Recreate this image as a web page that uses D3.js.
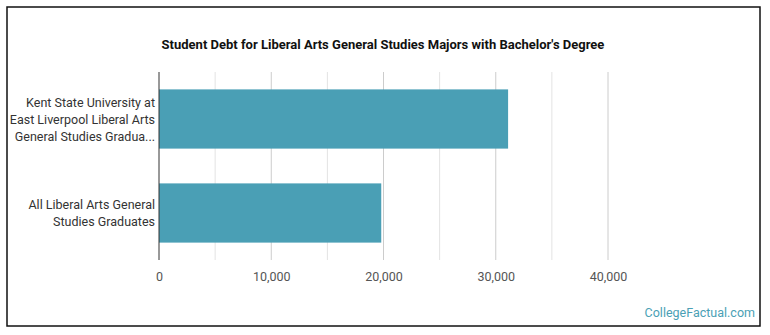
<!DOCTYPE html>
<html>
<head>
<meta charset="utf-8">
<script src="https://cdn.jsdelivr.net/npm/d3@7"></script>
<style>
  body { margin: 0; background: #fff; }
  svg text { font-family: Roboto, "Open Sans", sans-serif; }
</style>
</head>
<body>
<svg id="chart"></svg>
<script>
(() => {
  const width = 770, height = 335;

  const chartTitle = "Student Debt for Liberal Arts General Studies Majors with Bachelor's Degree";
  const categories = [
    ["Kent State University at", "East Liverpool Liberal Arts", "General Studies Gradua..."],
    ["All Liberal Arts General", "Studies Graduates"]
  ];
  const debtValues = [31100, 19800];
  const tickValues = [0, 10000, 20000, 30000, 40000];
  const gridValues = [0, 5000, 10000, 15000, 20000, 25000, 30000, 35000, 40000];

  const margin = { top: 72, left: 159, bottom: 75, right: 162 };

  const svg = d3.select("#chart")
    .attr("width", width)
    .attr("height", height);

  // frame
  svg.append("rect")
    .attr("x", 7).attr("y", 7)
    .attr("width", 753).attr("height", 319)
    .attr("fill", "#fff")
    .attr("stroke", "#111")
    .attr("stroke-width", 1.5);

  svg.append("text")
    .attr("x", 383).attr("y", 49)
    .attr("text-anchor", "middle")
    .attr("font-size", 13)
    .attr("font-weight", "bold")
    .attr("fill", "#111")
    .text(chartTitle);

  const x = d3.scaleLinear()
    .domain([0, 40000])
    .range([margin.left, width - margin.right]);

  const y = d3.scaleBand()
    .domain(d3.range(categories.length))
    .range([margin.top, height - margin.bottom])
    .paddingInner(0.37)
    .paddingOuter(0.185);

  const plotBottom = height - margin.bottom;

  // grid
  svg.append("g")
    .selectAll("line")
    .data(gridValues.filter(d => d > 0))
    .join("line")
    .attr("x1", d => x(d)).attr("x2", d => x(d))
    .attr("y1", margin.top).attr("y2", plotBottom)
    .attr("stroke", d => d % 10000 === 0 ? "#ccc" : "#e3e3e3")
    .attr("stroke-width", 1);

  // bars
  svg.append("g")
    .selectAll("rect")
    .data(debtValues)
    .join("rect")
    .attr("x", x(0))
    .attr("y", (d, i) => y(i))
    .attr("width", d => x(d) - x(0))
    .attr("height", y.bandwidth())
    .attr("fill", "#4a9fb5");

  // y axis line
  svg.append("line")
    .attr("x1", x(0)).attr("x2", x(0))
    .attr("y1", margin.top).attr("y2", plotBottom)
    .attr("stroke", "#333")
    .attr("stroke-width", 1);

  // category labels
  const lineH = 17;
  const labels = svg.append("g")
    .selectAll("text")
    .data(categories)
    .join("text")
    .attr("text-anchor", "end")
    .attr("font-size", 12.5)
    .attr("fill", "#333");

  labels.each(function (lines, i) {
    const cy = y(i) + y.bandwidth() / 2;
    const y0 = cy - (lines.length - 1) * lineH / 2 + 4.5;
    d3.select(this).selectAll("tspan")
      .data(lines)
      .join("tspan")
      .attr("x", x(0) - 4)
      .attr("y", (d, j) => y0 + j * lineH)
      .text(d => d);
  });

  // x tick labels
  const xAxis = d3.axisBottom(x)
    .tickValues(tickValues)
    .tickSize(0)
    .tickPadding(12)
    .tickFormat(d3.format(","));

  const gx = svg.append("g")
    .attr("transform", `translate(0,${plotBottom})`)
    .call(xAxis);
  gx.select(".domain").remove();
  gx.selectAll("text")
    .attr("font-size", 12.5)
    .attr("fill", "#555")
    .style("font-family", "Roboto, sans-serif");

  svg.append("text")
    .attr("x", 755).attr("y", 317)
    .attr("text-anchor", "end")
    .attr("font-size", 12.5)
    .attr("fill", "#4a9fb5")
    .text("CollegeFactual.com");
})();
</script>
</body>
</html>
